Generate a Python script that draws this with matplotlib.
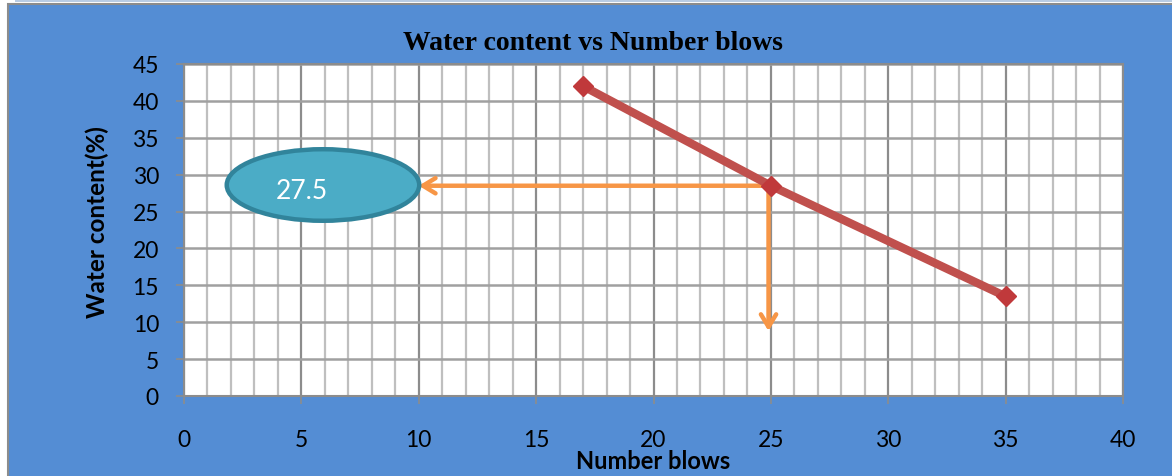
import matplotlib
matplotlib.use("Agg")
import matplotlib.pyplot as plt
from matplotlib.patches import Ellipse, Rectangle
from matplotlib.ticker import MultipleLocator

# Data: number of blows vs water content
blows = [17, 25, 35]
water_content = [42, 28.5, 13.5]

# Reading taken at 25 blows
read_blows = 25
read_value = 28.5
read_label = "27.5"
arrow_left_end = 10
arrow_down_end = 8.8

x_ticks = [0, 5, 10, 15, 20, 25, 30, 35, 40]
y_ticks = [0, 5, 10, 15, 20, 25, 30, 35, 40, 45]

title = "Water content vs Number blows"
x_label = "Number blows"
y_label = "Water content(%)"

BLUE = "#548DD4"
RED = "#C0504D"
ORANGE = "#F79646"
TEAL = "#4BACC6"
TEAL_EDGE = "#31849B"
SANS = ["Lato", "DejaVu Sans"]

W, H = 1172, 477
fig = plt.figure(figsize=(W / 100, H / 100), dpi=100, facecolor="white")

# Chart area background with thin frame
fig.patches.append(Rectangle((15 / W, 1 - 3 / H), 1, 3 / H, transform=fig.transFigure,
                             facecolor="#B8CCE4", edgecolor="none", zorder=-2))
fig.patches.append(Rectangle((8 / W, -0.01), 1, 1.01 - 5 / H, transform=fig.transFigure,
                             facecolor=BLUE, edgecolor="#8C8C8C", linewidth=1.5, zorder=-1))

ax = fig.add_axes([184 / W, 1 - 397 / H, (1123 - 184) / W, (397 - 65) / H])
ax.set_facecolor("white")
ax.set_xlim(0, 40)
ax.set_ylim(0, 45)

# Grid: fine vertical lines every blow, heavier every 5; horizontal every 5
ax.xaxis.set_minor_locator(MultipleLocator(1))
ax.set_xticks(x_ticks)
ax.set_yticks(y_ticks)
ax.grid(which="minor", axis="x", color="#BFBFBF", linewidth=1.6, zorder=0)
ax.grid(which="major", axis="x", color="#8C8C8C", linewidth=1.6, zorder=0)
ax.grid(which="major", axis="y", color="#A0A0A0", linewidth=1.8, zorder=0)
ax.set_axisbelow(True)

for s in ax.spines.values():
    s.set_color("#8C8C8C")
    s.set_linewidth(1.5)

ax.tick_params(axis="both", which="major", direction="out", length=6, width=1.2,
               color="#8C8C8C", labelsize=16.5, labelcolor="black")
ax.tick_params(axis="x", which="major", pad=18)
ax.tick_params(axis="y", which="major", pad=12)
ax.tick_params(which="minor", length=0)
for lbl in ax.get_xticklabels() + ax.get_yticklabels():
    lbl.set_family(SANS)

# Main series
ax.plot(blows, water_content, color=RED, linewidth=6, marker="D", markersize=10.5,
        markerfacecolor="#C0393B", markeredgecolor="#C0393B", zorder=4, clip_on=False)

# Reading arrows
arrow_kw = dict(arrowstyle="->,head_length=0.9,head_width=0.55", color=ORANGE, lw=3.2,
                shrinkA=0, shrinkB=0)
ax.annotate("", xy=(arrow_left_end, read_value), xytext=(read_blows, read_value),
            arrowprops=arrow_kw, zorder=3)
ax.annotate("", xy=(read_blows - 0.1, arrow_down_end), xytext=(read_blows - 0.1, read_value),
            arrowprops=arrow_kw, zorder=3)

# Callout ellipse with the read value
ell = Ellipse((5.92, 28.6), 8.2, 9.7, facecolor=TEAL, edgecolor=TEAL_EDGE,
              linewidth=3.2, zorder=5)
ax.add_patch(ell)
ax.text(5.0, 27.9, read_label, color="white", fontsize=19, family=SANS,
        ha="center", va="center", zorder=6)

# Titles
fig.text(593 / W, 1 - 43 / H, title, ha="center", va="center", fontsize=20,
         fontweight="bold", family=["Liberation Serif", "DejaVu Serif"])
fig.text(653 / W, 1 - 462 / H, x_label, ha="center", va="center", fontsize=17,
         fontweight="bold", family=SANS)
fig.text(97 / W, 1 - 222 / H, y_label, ha="center", va="center", fontsize=17.5,
         fontweight="bold", family=SANS, rotation=90)

fig.savefig("out.png", dpi=100, facecolor=fig.get_facecolor())
